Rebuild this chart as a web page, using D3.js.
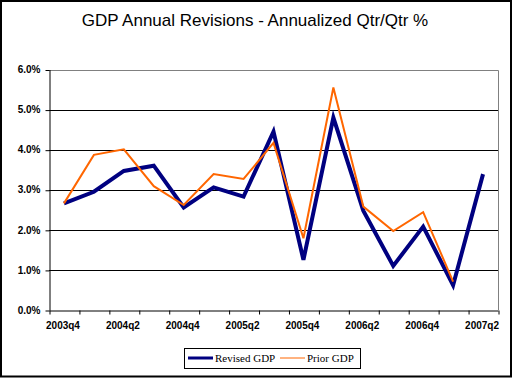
<!DOCTYPE html>
<html>
<head>
<meta charset="utf-8">
<script src="https://cdn.jsdelivr.net/npm/d3@7"></script>
<style>
	body { margin: 0; background: #fff; }
	svg { display: block; }
	.axis text { font-family: "Liberation Sans", Arial, sans-serif; font-weight: bold; fill: #000; }
</style>
</head>
<body>
<div id="chart"></div>
<script>

// quarters on the x axis
var quarters = ["2003q4","2004q1","2004q2","2004q3","2004q4","2005q1","2005q2","2005q3",
	"2005q4","2006q1","2006q2","2006q3","2006q4","2007q1","2007q2"];

// annualized qtr/qtr growth, percent
var revised = [2.66, 2.95, 3.47, 3.60, 2.56, 3.06, 2.83, 4.45, 1.25, 4.80, 2.48, 1.10, 2.08, 0.62, 3.39];
var prior   = [2.66, 3.87, 4.01, 3.09, 2.62, 3.39, 3.27, 4.17, 1.79, 5.55, 2.58, 1.97, 2.44, 0.71, null];

var yTicks = [0, 1, 2, 3, 4, 5, 6];

var series = [
	{"name":"Revised GDP", "values": revised, "color":"#000080", "width":4},
	{"name":"Prior GDP",   "values": prior,   "color":"#FF6600", "width":2}
];

var width = 513, height = 378;
var plot = { left: 49, right: 498, top: 69.5, bottom: 310 };

var svg = d3.select("#chart").append("svg")
	.attr("width", width)
	.attr("height", height);

// outer chart border
svg.append("rect")
	.attr("x", 1).attr("y", 1)
	.attr("width", 510).attr("height", 375.5)
	.attr("fill", "#fff")
	.attr("stroke", "#000")
	.attr("stroke-width", 2);

// title
svg.append("text")
	.attr("x", 255).attr("y", 26)
	.attr("text-anchor", "middle")
	.style("font-family", "'Liberation Sans', Arial, sans-serif")
	.style("font-size", "17px")
	.text("GDP Annual Revisions - Annualized Qtr/Qtr %");

// scales
var xScale = d3.scaleBand()
	.domain(quarters)
	.range([plot.left, plot.right])
	.padding(0);

var xEdge = d3.scaleLinear()
	.domain([0, quarters.length])
	.range([plot.left, plot.right]);

var yScale = d3.scaleLinear()
	.domain([0, 6])
	.range([plot.bottom, plot.top]);

// gridlines
svg.append("g").selectAll("line")
	.data(yTicks.slice(1, -1)).enter()
	.append("line")
		.attr("x1", plot.left).attr("x2", plot.right)
		.attr("y1", function(d){ return Math.round(yScale(d)) + 0.5 })
		.attr("y2", function(d){ return Math.round(yScale(d)) + 0.5 })
		.attr("stroke", "#000");

// gray plot-area border (top + right)
svg.append("path")
	.attr("d", "M" + plot.left + "," + (Math.round(plot.top) + 0.5) + "H" + (plot.right + 0.5) + "V" + plot.bottom)
	.attr("fill", "none")
	.attr("stroke", "#808080");

// y axis
var yAxis = d3.axisLeft(yScale)
	.tickValues(yTicks)
	.tickFormat(function(d){ return d3.format(".1%")(d / 100) })
	.tickSizeInner(4).tickSizeOuter(0).tickPadding(5);

svg.append("g")
	.attr("class", "y axis")
	.attr("transform", "translate(" + (plot.left + 0.5) + ",0)")
	.call(yAxis)
	.call(function(g){ g.selectAll("text").style("font-size", "10px") })
	.call(function(g){ g.selectAll(".tick line").attr("transform", "translate(0,0.5)") });

// x axis: tick marks between categories
var xTickAxis = d3.axisBottom(xEdge)
	.tickValues(d3.range(quarters.length + 1))
	.tickFormat("")
	.tickSizeInner(4).tickSizeOuter(0);

svg.append("g")
	.attr("class", "x axis")
	.attr("transform", "translate(0," + (plot.bottom + 0.5) + ")")
	.call(xTickAxis)
	.call(function(g){ g.selectAll(".tick line").attr("transform", "translate(0.5,0)") });

// x axis: labels every other quarter
var xLabelAxis = d3.axisBottom(xScale)
	.tickValues(quarters.filter(function(d,i){ return i % 2 == 0 }))
	.tickSize(0).tickPadding(12);

svg.append("g")
	.attr("class", "x axis labels")
	.attr("transform", "translate(-1," + plot.bottom + ")")
	.call(xLabelAxis)
	.call(function(g){ g.select(".domain").remove() })
	.call(function(g){ g.selectAll("text").style("font-size", "10px") });

// series lines, prior drawn over revised
var line = d3.line()
	.defined(function(d){ return d != null })
	.x(function(d,i){ return xScale(quarters[i]) + xScale.bandwidth() / 2 })
	.y(function(d){ return yScale(d) });

svg.append("g").selectAll("path")
	.data(series).enter()
	.append("path")
		.attr("d", function(s){ return line(s.values) })
		.attr("fill", "none")
		.attr("stroke", function(s){ return s.color })
		.attr("stroke-width", function(s){ return s.width })
		.attr("stroke-linejoin", "miter");

// legend
var legend = svg.append("g").attr("class", "legend");

legend.append("rect")
	.attr("x", 184.5).attr("y", 348.5)
	.attr("width", 176).attr("height", 20)
	.attr("fill", "#fff")
	.attr("stroke", "#000");

var legendX = [188, 280];

var item = legend.selectAll("g.item")
	.data(series).enter()
	.append("g")
		.attr("class", "item")
		.attr("transform", function(d,i){ return "translate(" + legendX[i] + ",358)" });

item.append("line")
	.attr("x1", 0).attr("x2", 25)
	.attr("stroke", function(s){ return s.color })
	.attr("stroke-width", function(s){ return s.width - 1 });

item.append("text")
	.attr("x", 27).attr("y", 4)
	.style("font-family", "'Liberation Serif', 'Times New Roman', serif")
	.style("font-size", "11px")
	.text(function(s){ return s.name });

</script>
</body>
</html>
